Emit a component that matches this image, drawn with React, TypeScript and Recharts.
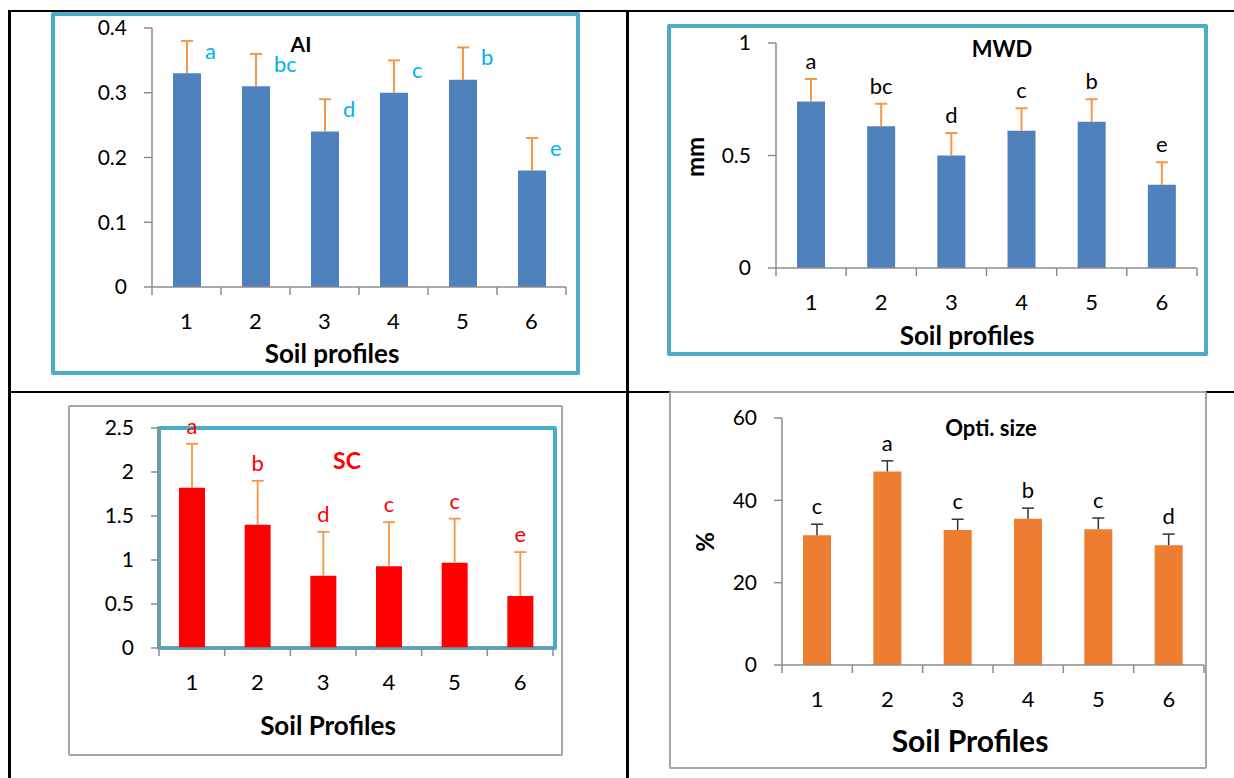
import { BarChart, Bar, XAxis, YAxis, LabelList } from "recharts";

const profiles = ["1", "2", "3", "4", "5", "6"];

const aiMean = [0.33, 0.31, 0.24, 0.3, 0.32, 0.18];
const aiErr = [0.05, 0.05, 0.05, 0.05, 0.05, 0.05];
const aiLetters = ["a", "bc", "d", "c", "b", "e"];
const aiTicks = [0, 0.1, 0.2, 0.3, 0.4];

const mwdMean = [0.74, 0.63, 0.5, 0.61, 0.65, 0.37];
const mwdErr = [0.1, 0.1, 0.1, 0.1, 0.1, 0.1];
const mwdLetters = ["a", "bc", "d", "c", "b", "e"];
const mwdTicks = [0, 0.5, 1];

const scMean = [1.82, 1.4, 0.82, 0.93, 0.97, 0.59];
const scErr = [0.5, 0.5, 0.5, 0.5, 0.5, 0.5];
const scLetters = ["a", "b", "d", "c", "c", "e"];
const scTicks = [0, 0.5, 1, 1.5, 2, 2.5];

const optMean = [31.5, 47, 32.8, 35.5, 33, 29.1];
const optErr = [2.7, 2.6, 2.6, 2.6, 2.7, 2.7];
const optLetters = ["c", "a", "c", "b", "c", "d"];
const optTicks = [0, 20, 40, 60];

const AXIS = "#8C8C8C";
const TEAL = "#4BACC6";
const FONT = "Lato, sans-serif";

interface Row {
  profile: string;
  mean: number;
  err: number;
  hi: number;
  letter: string;
}

function buildRows(mean: number[], err: number[], letters: string[]): Row[] {
  return profiles.map((p, i) => ({
    profile: p,
    mean: mean[i],
    err: err[i],
    hi: mean[i] + err[i],
    letter: letters[i],
  }));
}

/* eslint-disable @typescript-eslint/no-explicit-any */

/** Category label plus Excel-style tick marks between categories */
function ProfileTick(props: any) {
  const { x, y, payload, width, visibleTicksCount, index } = props;
  const band = width / visibleTicksCount;
  const last = index === visibleTicksCount - 1;
  return (
    <g>
      <line x1={x - band / 2} y1={y} x2={x - band / 2} y2={y + 8} stroke={AXIS} strokeWidth={1.5} />
      {last && <line x1={x + band / 2} y1={y} x2={x + band / 2} y2={y + 8} stroke={AXIS} strokeWidth={1.5} />}
      <text x={x} y={y + 42} textAnchor="middle" fill="#000" fontSize={22} fontFamily={FONT}>
        {payload.value}
      </text>
    </g>
  );
}

/** Upper half of the error bar only: the rect spans 0..mean+err, so err is the top slice of it */
function Whisker(props: any) {
  const { x, y, width, height, payload, color, stroke } = props;
  if (!payload || !height) return null;
  const cx = x + width / 2;
  const len = (height * payload.err) / payload.hi;
  return (
    <g>
      <line x1={cx} y1={y} x2={cx} y2={y + len} stroke={color} strokeWidth={stroke} />
      <line x1={cx - 6} y1={y} x2={cx + 6} y2={y} stroke={color} strokeWidth={stroke} />
    </g>
  );
}

/** AI letters sit to the right of the whisker */
function SideLetter(props: any) {
  const { x, y, width, value } = props;
  return (
    <text x={x + width / 2 + 18} y={y + 18} fill="#00B0F0" fontSize={22} fontFamily={FONT}>
      {value}
    </text>
  );
}

/* eslint-enable @typescript-eslint/no-explicit-any */

interface PanelProps {
  left: number;
  top: number;
  width: number;
  height: number;
  margin: { top: number; right: number; bottom: number; left: number };
  xHeight: number;
  rows: Row[];
  ticks: number[];
  barSize: number;
  barColor: string;
  errColor: string;
  errWidth: number;
  letterColor: string;
  sideLetters?: boolean;
}

function Panel(p: PanelProps) {
  const max = p.ticks[p.ticks.length - 1];
  return (
    <div style={{ position: "absolute", left: p.left, top: p.top }}>
      <BarChart
        width={p.width}
        height={p.height}
        data={p.rows}
        margin={p.margin}
        barGap={-p.barSize}
        style={{ fontFamily: FONT }}
      >
        <XAxis
          dataKey="profile"
          interval={0}
          height={p.xHeight}
          tickLine={false}
          tickSize={0}
          tickMargin={0}
          axisLine={{ stroke: AXIS, strokeWidth: 1.5 }}
          tick={<ProfileTick />}
        />
        <YAxis
          type="number"
          domain={[0, max]}
          ticks={p.ticks}
          interval={0}
          width={60}
          tickSize={8}
          tickMargin={17}
          axisLine={{ stroke: AXIS, strokeWidth: 1.5 }}
          tickLine={{ stroke: AXIS, strokeWidth: 1.5 }}
          tick={{ fontSize: 21, fill: "#000" }}
        />
        <Bar dataKey="mean" fill={p.barColor} barSize={p.barSize} isAnimationActive={false} />
        <Bar
          dataKey="hi"
          barSize={p.barSize}
          isAnimationActive={false}
          shape={<Whisker color={p.errColor} stroke={p.errWidth} />}
        >
          {p.sideLetters ? (
            <LabelList dataKey="letter" content={<SideLetter />} />
          ) : (
            <LabelList dataKey="letter" position="top" offset={10} fill={p.letterColor} fontSize={22} />
          )}
        </Bar>
      </BarChart>
    </div>
  );
}

function CenterText(props: {
  x: number;
  y: number;
  size: number;
  color?: string;
  rotate?: boolean;
  children: string;
}) {
  return (
    <div
      style={{
        position: "absolute",
        left: props.x,
        top: props.y,
        transform: `translate(-50%, -50%)${props.rotate ? " rotate(-90deg)" : ""}`,
        fontSize: props.size,
        fontWeight: 700,
        color: props.color ?? "#000",
        lineHeight: 1,
        whiteSpace: "nowrap",
        fontFamily: FONT,
      }}
    >
      {props.children}
    </div>
  );
}

function Box(props: { x: number; y: number; w: number; h: number; color: string; line: number }) {
  return (
    <div
      style={{
        position: "absolute",
        left: props.x,
        top: props.y,
        width: props.w,
        height: props.h,
        border: `${props.line}px solid ${props.color}`,
        boxSizing: "border-box",
        borderRadius: 2,
      }}
    />
  );
}

function Rule(props: { x: number; y: number; w: number; h: number }) {
  return (
    <div
      style={{ position: "absolute", left: props.x, top: props.y, width: props.w, height: props.h, background: "#000" }}
    />
  );
}

export default function App() {
  return (
    <div
      style={{
        position: "absolute",
        left: 0,
        top: 0,
        width: 1234,
        height: 778,
        background: "#fff",
        overflow: "hidden",
        fontFamily: FONT,
      }}
    >
      <Rule x={8} y={10} w={1226} h={2} />
      <Rule x={8} y={10} w={2.5} h={768} />
      <Rule x={626} y={10} w={2.5} h={768} />
      <Rule x={8} y={391} w={1226} h={2} />

      <Box x={51} y={12} w={529} h={363} color={TEAL} line={4.5} />
      <Box x={667} y={24} w={541} h={332} color={TEAL} line={4.5} />
      <Box x={68} y={405} w={495} h={351} color="#A6A6A6" line={2.5} />
      <Box x={669} y={391} w={538} h={378} color="#A6A6A6" line={2} />

      <Panel
        left={0}
        top={0}
        width={620}
        height={390}
        margin={{ top: 28, right: 54, bottom: 23, left: 92 }}
        xHeight={80}
        rows={buildRows(aiMean, aiErr, aiLetters)}
        ticks={aiTicks}
        barSize={28}
        barColor="#4F81BD"
        errColor="#F79646"
        errWidth={2}
        letterColor="#00B0F0"
        sideLetters
      />
      <Panel
        left={620}
        top={0}
        width={614}
        height={390}
        margin={{ top: 43, right: 37, bottom: 42, left: 96 }}
        xHeight={80}
        rows={buildRows(mwdMean, mwdErr, mwdLetters)}
        ticks={mwdTicks}
        barSize={28}
        barColor="#4F81BD"
        errColor="#F79646"
        errWidth={2}
        letterColor="#000"
      />
      <Box x={157} y={426} w={400} h={224} color={TEAL} line={4.5} />
      <Panel
        left={0}
        top={390}
        width={620}
        height={388}
        margin={{ top: 38, right: 67, bottom: 40, left: 99 }}
        xHeight={90}
        rows={buildRows(scMean, scErr, scLetters)}
        ticks={scTicks}
        barSize={26}
        barColor="#FF0000"
        errColor="#F79646"
        errWidth={1.8}
        letterColor="#FF0000"
      />
      <Panel
        left={620}
        top={390}
        width={614}
        height={388}
        margin={{ top: 28, right: 30, bottom: 23, left: 102 }}
        xHeight={90}
        rows={buildRows(optMean, optErr, optLetters)}
        ticks={optTicks}
        barSize={28}
        barColor="#ED7D31"
        errColor="#333333"
        errWidth={1.5}
        letterColor="#000"
      />

      <CenterText x={301} y={43} size={21}>AI</CenterText>
      <CenterText x={1002} y={49} size={22}>MWD</CenterText>
      <CenterText x={695} y={157} size={24} rotate>mm</CenterText>
      <CenterText x={347} y={460} size={23} color="#FF0000">SC</CenterText>
      <CenterText x={991} y={428} size={22}>Opti. size</CenterText>
      <CenterText x={705} y={542} size={24} rotate>%</CenterText>

      <CenterText x={332} y={353} size={26}>Soil profiles</CenterText>
      <CenterText x={967} y={335} size={26}>Soil profiles</CenterText>
      <CenterText x={328} y={725} size={26}>Soil Profiles</CenterText>
      <CenterText x={970} y={740} size={30}>Soil Profiles</CenterText>
    </div>
  );
}
